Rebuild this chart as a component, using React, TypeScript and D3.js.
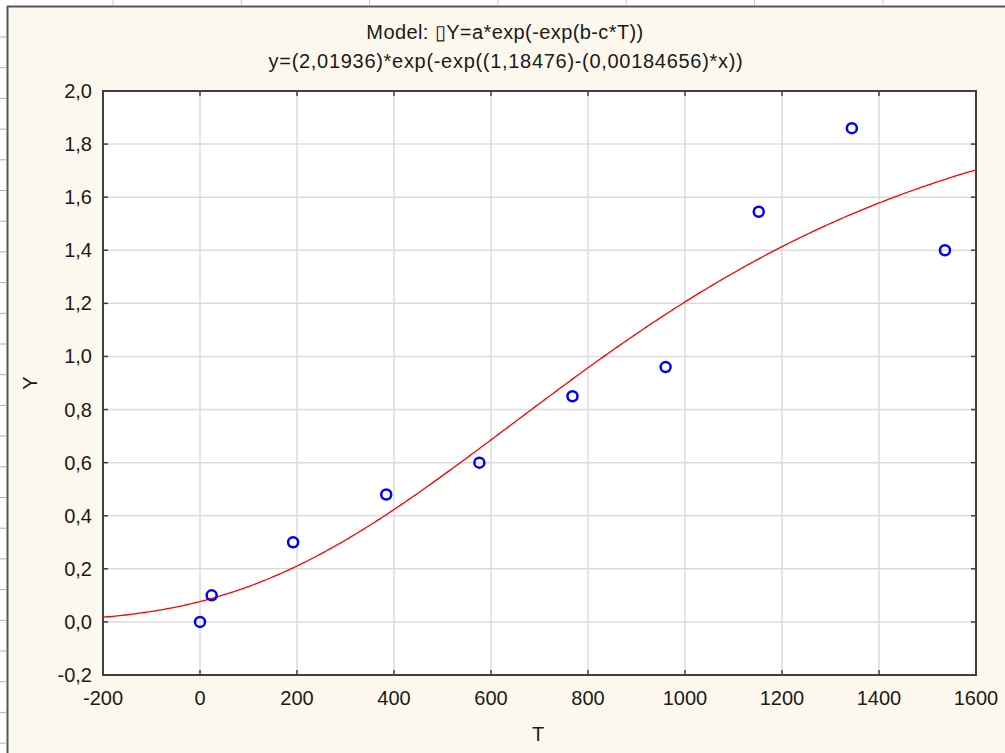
import React from 'react'
import * as d3 from 'd3'

// measured data points
const tValues = [0, 24, 192, 384, 576, 768, 960, 1152, 1344, 1536]
const yValues = [0.0, 0.1, 0.3, 0.48, 0.6, 0.85, 0.96, 1.545, 1.86, 1.4]

// fitted model parameters (from the title)
const paramA = 2.01936
const paramB = 1.18476
const paramC = 0.00184656

const xTicks = [-200, 0, 200, 400, 600, 800, 1000, 1200, 1400, 1600]
const yTicks = [-0.2, 0, 0.2, 0.4, 0.6, 0.8, 1.0, 1.2, 1.4, 1.6, 1.8, 2.0]

const titleLine1 = 'Model: \u25AFY=a*exp(-exp(b-c*T))'
const titleLine2 = 'y=(2,01936)*exp(-exp((1,18476)-(0,00184656)*x))'

const W = 1005
const H = 753
const margin = { left: 103, top: 91, right: 976, bottom: 675 }
const font = '"Liberation Sans", Arial, sans-serif'

const App = () => {
  const x = d3.scaleLinear().domain([-200, 1600]).range([margin.left, margin.right])
  const y = d3.scaleLinear().domain([-0.2, 2.0]).range([margin.bottom, margin.top])

  const points = tValues.map((t, i) => ({ t, v: yValues[i] }))

  const model = (t: number) => paramA * Math.exp(-Math.exp(paramB - paramC * t))
  const curveT = d3.range(-200, 1600.1, 5)
  const line = d3.line<number>()
    .x(t => x(t))
    .y(t => y(model(t)))

  const fmtY = (v: number) => d3.format('.1f')(v).replace('.', ',').replace('−', '-')

  const rulerY = d3.range(37, 753, 30.7)
  const rulerX = d3.range(113, 1005, 128.3)

  const frame = '#404040'
  const grid = '#dcdcdc'

  return (
    <svg width={W} height={H} style={{ position: 'absolute', left: 0, top: 0, display: 'block' }}>
      <rect x={0} y={0} width={W} height={H} fill="#ffffff" />
      <rect x={7} y={6} width={W - 7} height={H - 6} fill="#fdf8ee" />
      {rulerY.map((ry, i) => (
        <line key={'ry' + i} x1={0} x2={6} y1={ry} y2={ry} stroke="#b0b0b0" strokeWidth={1} />
      ))}
      {rulerX.map((rx, i) => (
        <line key={'rx' + i} x1={rx} x2={rx} y1={0} y2={5} stroke="#c8c8c8" strokeWidth={1} />
      ))}
      <line x1={7} x2={W} y1={6.5} y2={6.5} stroke="#555" strokeWidth={2} />
      <line x1={7.5} x2={7.5} y1={6} y2={H} stroke="#555" strokeWidth={2} />

      <rect x={margin.left} y={margin.top} width={margin.right - margin.left} height={margin.bottom - margin.top} fill="#ffffff" />

      {xTicks.slice(1, -1).map(t => (
        <line key={'gx' + t} x1={x(t)} x2={x(t)} y1={margin.top} y2={margin.bottom} stroke={grid} strokeWidth={1.5} />
      ))}
      {yTicks.slice(1, -1).map(t => (
        <line key={'gy' + t} x1={margin.left} x2={margin.right} y1={y(t)} y2={y(t)} stroke={grid} strokeWidth={1.5} />
      ))}

      {/* inward ticks on all four sides */}
      {xTicks.map(t => (
        <g key={'tx' + t}>
          <line x1={x(t)} x2={x(t)} y1={margin.bottom} y2={margin.bottom - 5} stroke={frame} strokeWidth={1.5} />
          <line x1={x(t)} x2={x(t)} y1={margin.top} y2={margin.top + 5} stroke={frame} strokeWidth={1.5} />
        </g>
      ))}
      {yTicks.map(t => (
        <g key={'ty' + t}>
          <line x1={margin.left} x2={margin.left + 5} y1={y(t)} y2={y(t)} stroke={frame} strokeWidth={1.5} />
          <line x1={margin.right} x2={margin.right - 5} y1={y(t)} y2={y(t)} stroke={frame} strokeWidth={1.5} />
        </g>
      ))}

      <rect x={margin.left} y={margin.top} width={margin.right - margin.left} height={margin.bottom - margin.top} fill="none" stroke={frame} strokeWidth={2} />

      <clipPath id="plotclip">
        <rect x={margin.left} y={margin.top} width={margin.right - margin.left} height={margin.bottom - margin.top} />
      </clipPath>
      <path d={line(curveT) ?? ''} fill="none" stroke="#ff0000" strokeWidth={1.3} clipPath="url(#plotclip)" />

      {points.map((p, i) => (
        <circle key={'p' + i} cx={x(p.t)} cy={y(p.v)} r={5} fill="none" stroke="#0000ff" strokeWidth={2.5} />
      ))}

      {xTicks.map(t => (
        <text key={'lx' + t} x={x(t)} y={705} textAnchor="middle" fontFamily={font} fontSize={20} fill="#1a1a1a">{t}</text>
      ))}
      {yTicks.map(t => (
        <text key={'ly' + t} x={92} y={y(t) + 7} textAnchor="end" fontFamily={font} fontSize={20} fill="#1a1a1a">{fmtY(t)}</text>
      ))}

      <text x={505} y={39} textAnchor="middle" fontFamily={font} fontSize={20} letterSpacing={0.4} fill="#1a1a1a">{titleLine1}</text>
      <text x={506} y={68} textAnchor="middle" fontFamily={font} fontSize={20} letterSpacing={0.7} fill="#1a1a1a">{titleLine2}</text>

      <text x={538} y={741} textAnchor="middle" fontFamily={font} fontSize={20} fill="#1a1a1a">T</text>
      <text transform="translate(37,383) rotate(-90)" textAnchor="middle" fontFamily={font} fontSize={20} fill="#1a1a1a">Y</text>
    </svg>
  )
}

export default App
